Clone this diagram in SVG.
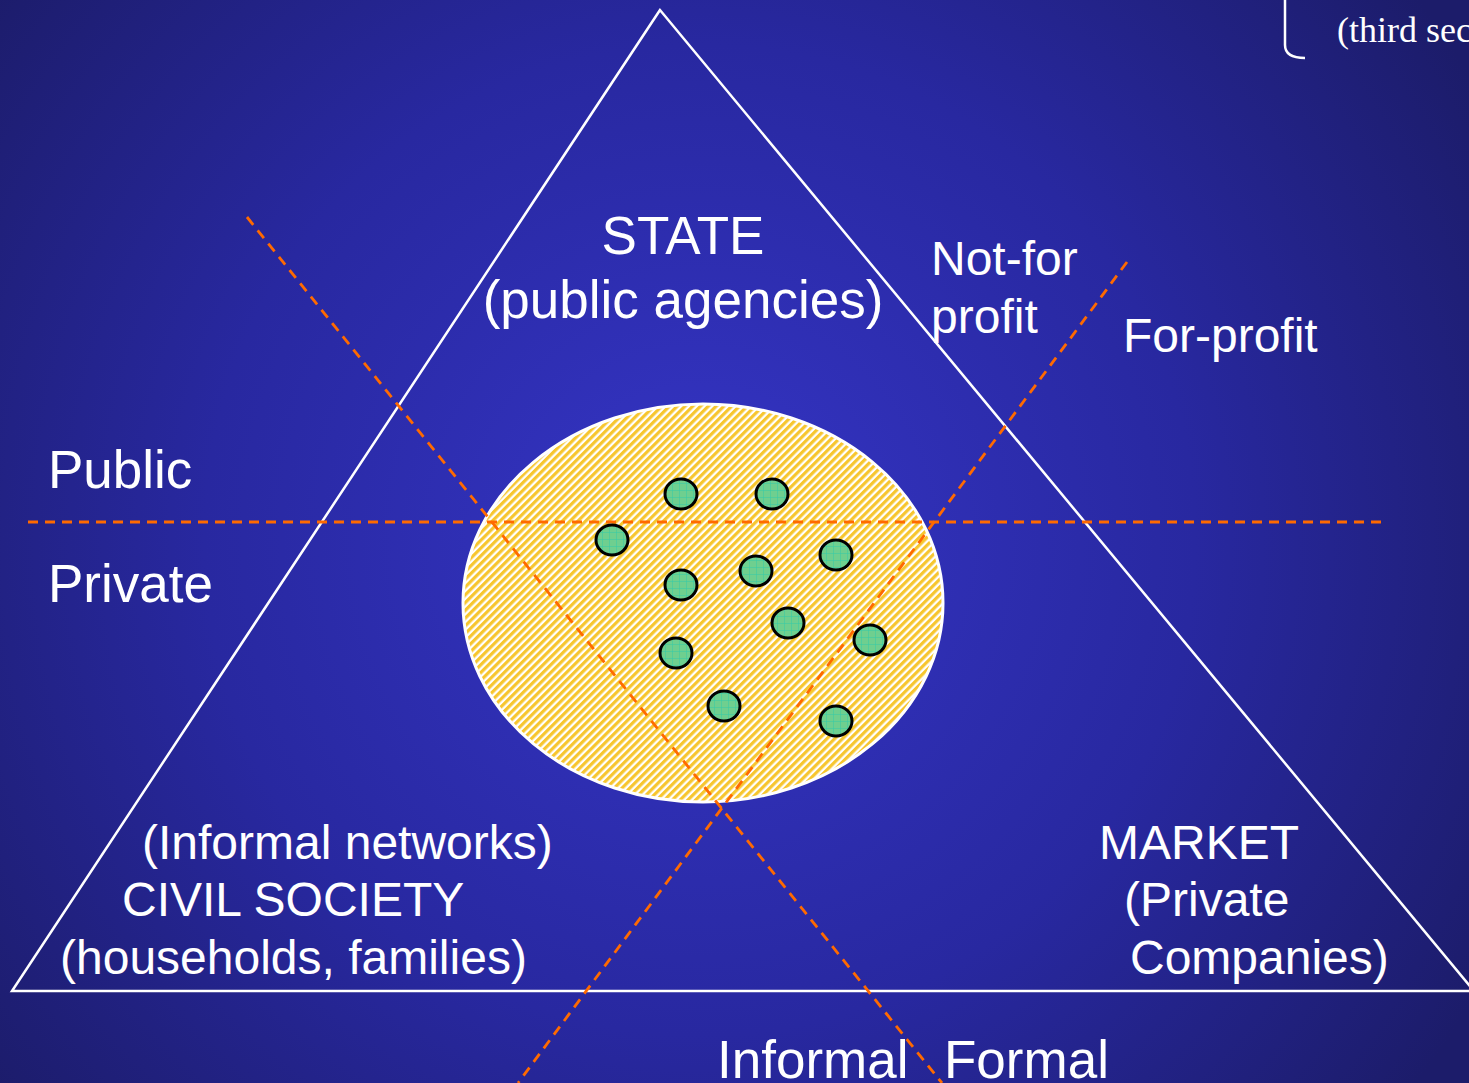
<svg xmlns="http://www.w3.org/2000/svg" width="1469" height="1083" viewBox="0 0 1469 1083">
<defs>
<radialGradient id="bg" gradientUnits="userSpaceOnUse" cx="700" cy="540" r="900">
<stop offset="0" stop-color="#3535c6"/>
<stop offset="0.55" stop-color="#2828a0"/>
<stop offset="1" stop-color="#1c1c6a"/>
</radialGradient>
<pattern id="hatch" patternUnits="userSpaceOnUse" width="5.5" height="5.5" patternTransform="rotate(45)">
<rect width="5.5" height="5.5" fill="#ffffff"/>
<rect width="3.2" height="5.5" fill="#f7c62f"/>
</pattern>
<pattern id="grid" patternUnits="userSpaceOnUse" width="7" height="7">
<rect width="7" height="7" fill="#6fcf8f"/>
<path d="M0 0H7M0 0V7" stroke="#33ccaa" stroke-width="1"/>
</pattern>
<style>
.t{font-family:"Liberation Sans",Arial,sans-serif;fill:#ffffff}
.d{fill:none;stroke:#ff6a00;stroke-width:2.8;stroke-dasharray:10 7}
.g{fill:url(#grid);stroke:#000;stroke-width:3}
</style>
</defs>
<rect width="1469" height="1083" fill="url(#bg)"/>
<g id="triangle">
<polygon points="660,10 12,991 1474,991" fill="none" stroke="#fff" stroke-width="2.5"/>
</g>
<g id="bracket">
<path d="M1285 0 V45 Q1285 58 1305 58" fill="none" stroke="#fff" stroke-width="2.5"/>
<text x="1337" y="42" font-family="Liberation Serif,Times New Roman,serif" font-size="36" fill="#fff">(third sec</text>
</g>
<g id="mix">
<ellipse cx="703" cy="603" rx="240" ry="199" fill="url(#hatch)" stroke="#fff" stroke-width="3"/>
</g>
<g id="connectors">
<line class="d" x1="28" y1="522" x2="1383" y2="522"/>
<line class="d" x1="247" y1="217" x2="942" y2="1083"/>
<line class="d" x1="1127" y1="262" x2="518" y2="1083"/>
</g>
<g id="organisations">
<ellipse class="g" cx="681" cy="494" rx="16" ry="15"/>
<ellipse class="g" cx="772" cy="494" rx="16" ry="15"/>
<ellipse class="g" cx="612" cy="540" rx="16" ry="15"/>
<ellipse class="g" cx="681" cy="585" rx="16" ry="15"/>
<ellipse class="g" cx="756" cy="571" rx="16" ry="15"/>
<ellipse class="g" cx="836" cy="555" rx="16" ry="15"/>
<ellipse class="g" cx="788" cy="623" rx="16" ry="15"/>
<ellipse class="g" cx="870" cy="640" rx="16" ry="15"/>
<ellipse class="g" cx="676" cy="653" rx="16" ry="15"/>
<ellipse class="g" cx="724" cy="706" rx="16" ry="15"/>
<ellipse class="g" cx="836" cy="721" rx="16" ry="15"/>
</g>
<g id="state">
<text class="t" x="683" y="254" font-size="53" text-anchor="middle">STATE</text>
<text class="t" x="683" y="318" font-size="53" text-anchor="middle">(public agencies)</text>
</g>
<g id="notforprofit">
<text class="t" x="931" y="275" font-size="48">Not-for</text>
<text class="t" x="931" y="333" font-size="48">profit</text>
</g>
<g id="forprofit">
<text class="t" x="1123" y="352" font-size="48">For-profit</text>
</g>
<g id="public"><text class="t" x="48" y="488" font-size="53">Public</text></g>
<g id="private"><text class="t" x="48" y="602" font-size="53">Private</text></g>
<g id="civil">
<text class="t" x="142" y="859" font-size="48">(Informal networks)</text>
<text class="t" x="122" y="916" font-size="48">CIVIL SOCIETY</text>
<text class="t" x="60" y="974" font-size="48">(households, families)</text>
</g>
<g id="market">
<text class="t" x="1099" y="859" font-size="48">MARKET</text>
<text class="t" x="1124" y="916" font-size="48">(Private</text>
<text class="t" x="1130" y="974" font-size="48">Companies)</text>
</g>
<g id="informal"><text class="t" x="717" y="1078" font-size="53">Informal</text></g>
<g id="formal"><text class="t" x="944" y="1078" font-size="53">Formal</text></g>
</svg>
